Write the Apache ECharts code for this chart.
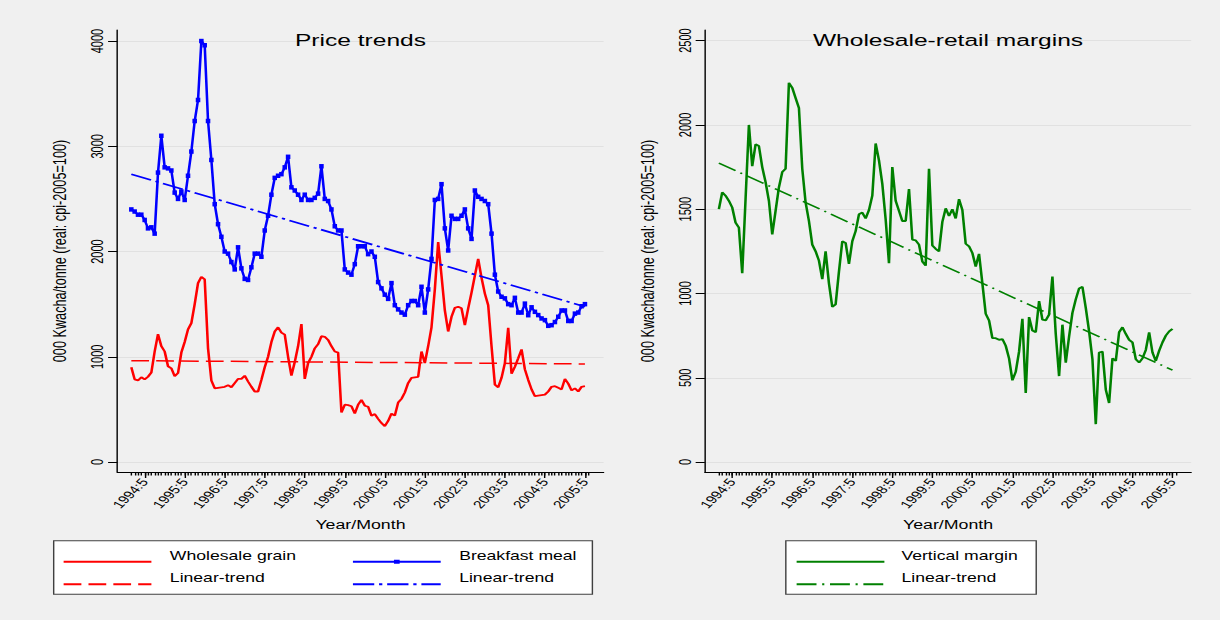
<!DOCTYPE html>
<html><head><meta charset="utf-8">
<script src="https://cdn.jsdelivr.net/npm/echarts@6/dist/echarts.min.js"></script>
<style>
html,body{margin:0;padding:0;background:#f0f0f0;}
#wrap{width:1220px;height:620px;overflow:hidden;position:relative;background:#f0f0f0;}
#chart{width:859px;height:620px;transform:scaleX(1.420256);transform-origin:0 0;}
</style></head><body>
<div id="wrap"><div id="chart"></div></div>
<script>
// ---- data (monthly, starting 1994:1) ----
const startYear = 1994, startMonth = 1;
const wholesaleGrain = [900,785,775,805,785,810,850,1050,1215,1100,1050,910,890,815,845,1040,1140,1260,1320,1500,
1700,1760,1735,1080,775,700,705,710,715,730,710,750,790,790,820,765,715,670,670,780,
900,1000,1140,1240,1280,1230,1210,1000,820,950,1100,1310,790,940,1000,1080,1120,1195,1190,1160,
1100,1050,1040,470,545,540,530,460,545,590,535,525,440,455,410,370,340,390,460,440,
565,600,660,750,800,805,810,1050,940,1100,1280,1640,2090,1770,1440,1240,1380,1465,1475,1460,
1300,1460,1610,1770,1930,1750,1600,1490,1100,735,710,800,940,1275,840,905,985,1070,880,780,
690,625,630,635,640,670,715,720,705,690,790,745,680,700,670,715,720];
const breakfastMeal = [2400,2380,2350,2350,2300,2220,2230,2170,2750,3100,2800,2790,2770,2560,2500,2570,2490,2720,2950,3240,
3440,4000,3960,3240,2870,2450,2260,2140,2000,1980,1900,1830,2040,1840,1740,1730,1850,1980,1980,1950,
2200,2340,2540,2700,2720,2735,2800,2900,2610,2580,2540,2490,2540,2490,2490,2510,2550,2810,2500,2480,
2400,2240,2200,2200,1830,1800,1780,1880,2050,2050,2050,1975,2000,1950,1710,1650,1590,1550,1700,1490,
1450,1420,1400,1490,1530,1530,1490,1665,1420,1640,1930,2490,2500,2640,2220,2010,2340,2310,2310,2340,
2400,2220,2120,2580,2520,2500,2480,2450,2170,1780,1620,1570,1555,1500,1490,1560,1420,1420,1505,1395,
1470,1427,1396,1364,1348,1294,1300,1330,1380,1440,1440,1340,1340,1410,1420,1480,1500];
const verticalMargin = [1500,1600,1580,1550,1510,1420,1390,1120,1560,2000,1755,1885,1875,1750,1660,1550,1350,1490,1630,1720,
1740,2250,2220,2160,2100,1740,1540,1430,1290,1250,1195,1085,1250,1060,920,935,1130,1310,1300,1175,
1310,1370,1470,1480,1445,1495,1580,1890,1790,1650,1440,1180,1750,1550,1490,1430,1430,1620,1320,1315,
1290,1190,1165,1740,1285,1265,1250,1425,1505,1460,1500,1445,1560,1495,1295,1280,1240,1160,1235,1060,
880,840,735,735,725,730,690,615,485,535,655,850,410,860,780,770,955,845,840,875,
1100,760,510,815,590,745,885,965,1030,1040,915,775,610,225,650,655,430,350,615,600,
770,800,760,725,710,610,590,615,665,770,650,600,660,710,750,775,790];
// linear trends: value at first and last month
const grainTrend = [963, 932];
const mealTrend = [2734, 1476];
const marginTrend = [1774, 545];
const tickLabels = ['1994:5','1995:5','1996:5','1997:5','1998:5','1999:5','2000:5','2001:5','2002:5','2003:5','2004:5','2005:5'];
const priceTicks = [0,1000,2000,3000,4000];
const marginTicks = [0,500,1000,1500,2000,2500];

// ---- build ----
const months = wholesaleGrain.map((_, i) => {
  const y = startYear + Math.floor((startMonth - 1 + i) / 12);
  const m = (startMonth - 1 + i) % 12 + 1;
  return y + ':' + m;
});
const tickIdx = tickLabels.map(l => months.indexOf(l));
const minorIdx = months.map((_, i) => i).concat([months.length]);
const last = months.length - 1;
const pts = arr => arr.map((v, i) => [i, v]);
const trend = t => [[0, t[0]], [last, t[1]]];

const FONT = '"Liberation Sans", Arial, Helvetica, sans-serif';
const TXT = {color: '#000', fontFamily: FONT};
const XMIN = -4.2, XMAX = 141.6;
const YNAME = '000 Kwacha/tonne (real: cpi-2005=100)';

function majorX(g) {
  return {type: 'value', gridIndex: g, min: XMIN, max: XMAX, position: 'bottom',
    axisLine: {show: true, onZero: false, lineStyle: {color: '#000', width: 1}},
    axisTick: {show: true, customValues: tickIdx, length: 6, lineStyle: {color: '#000', width: 1}},
    axisLabel: {customValues: tickIdx, formatter: v => { const k = tickIdx.indexOf(Math.round(v)); return k >= 0 ? tickLabels[k] : ''; },
      rotate: 53.5, fontSize: 11, margin: 8, ...TXT},
    splitLine: {show: false},
    name: 'Year/Month', nameLocation: 'middle', nameGap: 46,
    nameTextStyle: {fontSize: 12.5, ...TXT}};
}
function minorX(g) {
  return {type: 'value', gridIndex: g, min: XMIN, max: XMAX, position: 'bottom',
    axisLine: {show: false, onZero: false},
    axisTick: {show: true, customValues: minorIdx, length: 3.5, lineStyle: {color: '#000', width: 1}},
    axisLabel: {show: false}, splitLine: {show: false}};
}
function yAx(g, min, max, ticks) {
  return {type: 'value', gridIndex: g, min: min, max: max,
    axisLine: {show: true, onZero: false, lineStyle: {color: '#000', width: 1}},
    axisTick: {show: true, customValues: ticks, length: 6.5, lineStyle: {color: '#000', width: 1}},
    axisLabel: {customValues: ticks, rotate: 90, fontSize: 11, margin: 8, formatter: v => String(Math.round(v)), ...TXT},
    splitLine: {show: true, lineStyle: {color: '#e1e1e1', width: 1}},
    name: YNAME, nameLocation: 'middle', nameGap: 34, nameRotate: 90,
    nameTextStyle: {fontSize: 12.7, ...TXT}};
}
function leg(name, label, left, lineY, padLeft, hideSymbol) {
  const item = {name: name};
  if (hideSymbol) item.itemStyle = {opacity: 0};
  return {show: true, left: left, top: lineY - 12.5, padding: 0, itemWidth: 61.8, itemHeight: 5,
    selectedMode: false, z: 5, data: [item], formatter: () => '{t|' + label + '}{s| }',
    textStyle: {fontSize: 12.4, ...TXT, padding: [0, 0, 0, padLeft],
      rich: {t: {fontSize: 12.4, ...TXT, lineHeight: 14, verticalAlign: 'top'},
             s: {fontSize: 12.4, ...TXT, lineHeight: 25}}}};
}

const option = {
  animation: false,
  backgroundColor: '#f0f0f0',
  title: [
    {text: 'Price trends', left: 253.8, top: 32, textAlign: 'center', padding: 0,
      textStyle: {fontSize: 17.3, fontWeight: 'normal', ...TXT}},
    {text: 'Wholesale-retail margins', left: 667.5, top: 32, textAlign: 'center', padding: 0,
      textStyle: {fontSize: 17.3, fontWeight: 'normal', ...TXT}}
  ],
  grid: [
    {left: 82.6, top: 30, width: 342.4, height: 442, containLabel: false},
    {left: 496.3, top: 30, width: 342.4, height: 442, containLabel: false}
  ],
  xAxis: [majorX(0), minorX(0), majorX(1), minorX(1)],
  yAxis: [yAx(0, -95, 4105, priceTicks), yAx(1, -59, 2563, marginTicks)],
  legend: [
    leg('Wholesale grain', 'Wholesale grain', 43.8, 561.7, 8, true),
    leg('Linear-trend (grain)', 'Linear-trend', 43.8, 584.3, 8, true),
    leg('Breakfast meal', 'Breakfast meal', 247.5, 561.7, 8, false),
    leg('Linear-trend (meal)', 'Linear-trend', 247.5, 584.3, 8, true),
    leg('Vertical margin', 'Vertical margin', 559.9, 561.7, 7, true),
    leg('Linear-trend (margin)', 'Linear-trend', 559.9, 584.3, 7, true)
  ],
  graphic: [
    {type: 'rect', silent: true, z: 0, shape: {x: 37.8, y: 540.7, width: 379.3, height: 53.6},
      style: {fill: '#ffffff', stroke: '#404040', lineWidth: 1}},
    {type: 'rect', silent: true, z: 0, shape: {x: 553.3, y: 540.7, width: 176.3, height: 53.6},
      style: {fill: '#ffffff', stroke: '#404040', lineWidth: 1}}
  ],
  series: [
    {name: 'Wholesale grain', type: 'line', xAxisIndex: 0, yAxisIndex: 0, data: pts(wholesaleGrain),
      symbol: 'none', lineStyle: {color: '#ff0000', width: 1.8}, itemStyle: {color: '#ff0000'}},
    {name: 'Breakfast meal', type: 'line', xAxisIndex: 0, yAxisIndex: 0, data: pts(breakfastMeal),
      symbol: 'rect', symbolSize: [3.2, 4.5], showAllSymbol: true,
      lineStyle: {color: '#0000ff', width: 1.8}, itemStyle: {color: '#0000ff'}},
    {name: 'Linear-trend (grain)', type: 'line', xAxisIndex: 0, yAxisIndex: 0, data: trend(grainTrend),
      symbol: 'none', lineStyle: {color: '#ff0000', width: 1.5, type: [12.5, 5]}, itemStyle: {color: '#ff0000'}},
    {name: 'Linear-trend (meal)', type: 'line', xAxisIndex: 0, yAxisIndex: 0, data: trend(mealTrend),
      symbol: 'none', lineStyle: {color: '#0000ff', width: 1.7, type: [15, 3.4, 2.3, 3.4]}, itemStyle: {color: '#0000ff'}},
    {name: 'Vertical margin', type: 'line', xAxisIndex: 2, yAxisIndex: 1, data: pts(verticalMargin),
      symbol: 'none', lineStyle: {color: '#008000', width: 1.8}, itemStyle: {color: '#008000'}},
    {name: 'Linear-trend (margin)', type: 'line', xAxisIndex: 2, yAxisIndex: 1, data: trend(marginTrend),
      symbol: 'none', lineStyle: {color: '#008000', width: 1.5, type: [14, 4, 1.5, 4]}, itemStyle: {color: '#008000'}}
  ]
};
const chart = echarts.init(document.getElementById('chart'), null, {renderer: 'svg'});
chart.setOption(option);
</script>
</body></html>
